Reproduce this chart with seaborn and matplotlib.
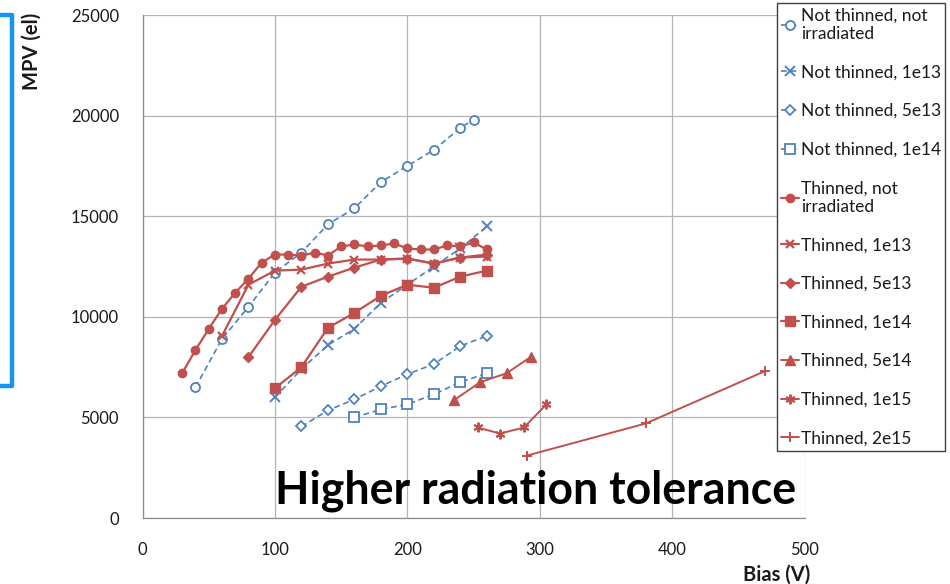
import matplotlib
matplotlib.use("Agg")
import matplotlib.pyplot as plt
from matplotlib.lines import Line2D
import seaborn as sns

# ---- data: bias voltage (V) and most probable value (electrons) ----
nt_ni_x = [40, 60, 80, 100, 120, 140, 160, 180, 200, 220, 240, 250]
nt_ni_y = [6500, 8900, 10500, 12200, 13200, 14600, 15400, 16700, 17500, 18300, 19400, 19800]

nt_1e13_x = [100, 120, 140, 160, 180, 200, 220, 240, 260]
nt_1e13_y = [6000, 7400, 8600, 9400, 10700, 11600, 12500, 13400, 14500]

nt_5e13_x = [120, 140, 160, 180, 200, 220, 240, 260]
nt_5e13_y = [4550, 5350, 5900, 6550, 7150, 7650, 8550, 9050]

nt_1e14_x = [160, 180, 200, 220, 240, 260]
nt_1e14_y = [5000, 5400, 5650, 6150, 6750, 7200]

t_ni_x = [30, 40, 50, 60, 70, 80, 90, 100, 110, 120, 130, 140, 150, 160, 170, 180,
          190, 200, 210, 220, 230, 240, 250, 260]
t_ni_y = [7200, 8350, 9400, 10400, 11200, 11900, 12700, 13100, 13100, 13050, 13200, 13050,
          13500, 13600, 13500, 13550, 13650, 13400, 13350, 13350, 13550, 13500, 13700, 13350]

t_1e13_x = [60, 80, 100, 120, 140, 160, 180, 200, 220, 240, 260]
t_1e13_y = [9050, 11600, 12300, 12350, 12650, 12850, 12850, 12900, 12650, 12950, 13000]

t_5e13_x = [80, 100, 120, 140, 160, 180, 200, 220, 240, 260]
t_5e13_y = [8000, 9850, 11500, 12000, 12450, 12850, 12900, 12650, 12950, 13100]

t_1e14_x = [100, 120, 140, 160, 180, 200, 220, 240, 260]
t_1e14_y = [6450, 7500, 9450, 10200, 11050, 11600, 11450, 12000, 12300]

t_5e14_x = [235, 255, 275, 293]
t_5e14_y = [5850, 6750, 7200, 8000]

t_1e15_x = [253, 270, 288, 305]
t_1e15_y = [4500, 4200, 4500, 5650]

t_2e15_x = [290, 380, 470]
t_2e15_y = [3100, 4700, 7300]

labels = [
    "Not thinned, not\nirradiated", "Not thinned, 1e13", "Not thinned, 5e13",
    "Not thinned, 1e14", "Thinned, not\nirradiated", "Thinned, 1e13",
    "Thinned, 5e13", "Thinned, 1e14", "Thinned, 5e14", "Thinned, 1e15",
    "Thinned, 2e15",
]
x_ticks = [0, 100, 200, 300, 400, 500]
y_ticks = [0, 5000, 10000, 15000, 20000, 25000]

BLUE = "#4f81bd"
RED = "#c0504d"

sns.set_theme(style="white")
plt.rcParams["font.family"] = ["Lato", "DejaVu Sans"]

W, H = 950, 584
fig = plt.figure(figsize=(W / 100, H / 100), dpi=100)
ax = fig.add_axes([0.15, 0.113, 0.697, 0.861])

blue_dash = (0, (3.5, 2.2))
series = [
    (nt_ni_x, nt_ni_y, dict(color=BLUE, marker="o", mfc="white", mec=BLUE, ms=6.5, mew=1.3, lw=1.2, linestyle=blue_dash)),
    (nt_1e13_x, nt_1e13_y, dict(color=BLUE, marker="x", mec=BLUE, ms=6.5, mew=1.4, lw=1.2, linestyle=blue_dash)),
    (nt_5e13_x, nt_5e13_y, dict(color=BLUE, marker="D", mfc="white", mec=BLUE, ms=5, mew=1.3, lw=1.2, linestyle=blue_dash)),
    (nt_1e14_x, nt_1e14_y, dict(color=BLUE, marker="s", mfc="white", mec=BLUE, ms=6.5, mew=1.3, lw=1.2, linestyle=blue_dash)),
    (t_ni_x, t_ni_y, dict(color=RED, marker="o", mfc=RED, mec=RED, ms=6, mew=1, lw=1.6, linestyle="-")),
    (t_1e13_x, t_1e13_y, dict(color=RED, marker="x", mec=RED, ms=6, mew=1.6, lw=1.6, linestyle="-")),
    (t_5e13_x, t_5e13_y, dict(color=RED, marker="D", mfc=RED, mec=RED, ms=5.5, mew=1, lw=1.6, linestyle="-")),
    (t_1e14_x, t_1e14_y, dict(color=RED, marker="s", mfc=RED, mec=RED, ms=6.5, mew=1, lw=1.6, linestyle="-")),
    (t_5e14_x, t_5e14_y, dict(color=RED, marker="^", mfc=RED, mec=RED, ms=6.5, mew=1, lw=1.4, linestyle="-")),
    (t_1e15_x, t_1e15_y, dict(color=RED, marker=(6, 2, 0), mec=RED, ms=7, mew=1.4, lw=1.4, linestyle="-")),
    (t_2e15_x, t_2e15_y, dict(color=RED, marker="+", mec=RED, ms=7, mew=1.4, lw=1.4, linestyle="-")),
]

for (xs, ys, style), lab in zip(series, labels):
    sns.lineplot(x=xs, y=ys, ax=ax, label=lab, sort=False, estimator=None, **style)

ax.set_xlim(0, 500)
ax.set_ylim(0, 25000)
ax.set_xticks(x_ticks)
ax.set_yticks(y_ticks)
ax.set_xticklabels([str(v) for v in x_ticks])
ax.set_yticklabels([str(v) for v in y_ticks])
ax.grid(True, color="#b4b4b4", lw=0.9)
ax.set_axisbelow(True)
for side in ("top", "right"):
    ax.spines[side].set_visible(False)
for side in ("left", "bottom"):
    ax.spines[side].set_color("#8c8c8c")
    ax.spines[side].set_linewidth(0.9)
ax.tick_params(axis="both", which="major", direction="out", length=5, width=0.9,
               color="#8c8c8c", labelsize=12, labelcolor="#1a1a1a", pad=12)

ax.set_xlabel("Bias (V)", fontsize=14.5, fontweight="bold", color="#1a1a1a")
ax.set_ylabel("MPV (el)", fontsize=14.5, fontweight="bold", color="#1a1a1a")
ax.xaxis.set_label_coords(0.957, -0.093)
ax.yaxis.set_label_coords(-0.152, 0.928)

leg = ax.legend(loc="upper left", bbox_to_anchor=(777 / W, 1 - 3 / H),
                bbox_transform=fig.transFigure, borderaxespad=0, frameon=True,
                fancybox=False, framealpha=1, edgecolor="#404040",
                fontsize=12.5, handlelength=1.0, handletextpad=0.12,
                labelspacing=1.3, borderpad=0.25)
leg.get_frame().set_linewidth(1.0)
for t in leg.get_texts():
    t.set_color("#1a1a1a")

# headline across the lower part of the plot
txt = fig.text(536 / W, 1 - 503 / H, "Higher radiation tolerance",
               ha="center", va="baseline", fontsize=30, fontweight="bold",
               color="black")
fig.canvas.draw()
w = txt.get_window_extent().width
txt.set_fontsize(30 * 521 / w)

# blue bracket at the left edge
bx = [0, 12 / W, 12 / W, 0]
by = [1 - 15 / H, 1 - 15 / H, 1 - 386 / H, 1 - 386 / H]
fig.add_artist(Line2D(bx, by, transform=fig.transFigure, color="#1296f0", lw=3.2,
                      solid_joinstyle="round", solid_capstyle="butt"))

fig.savefig("out.png", dpi=100)
